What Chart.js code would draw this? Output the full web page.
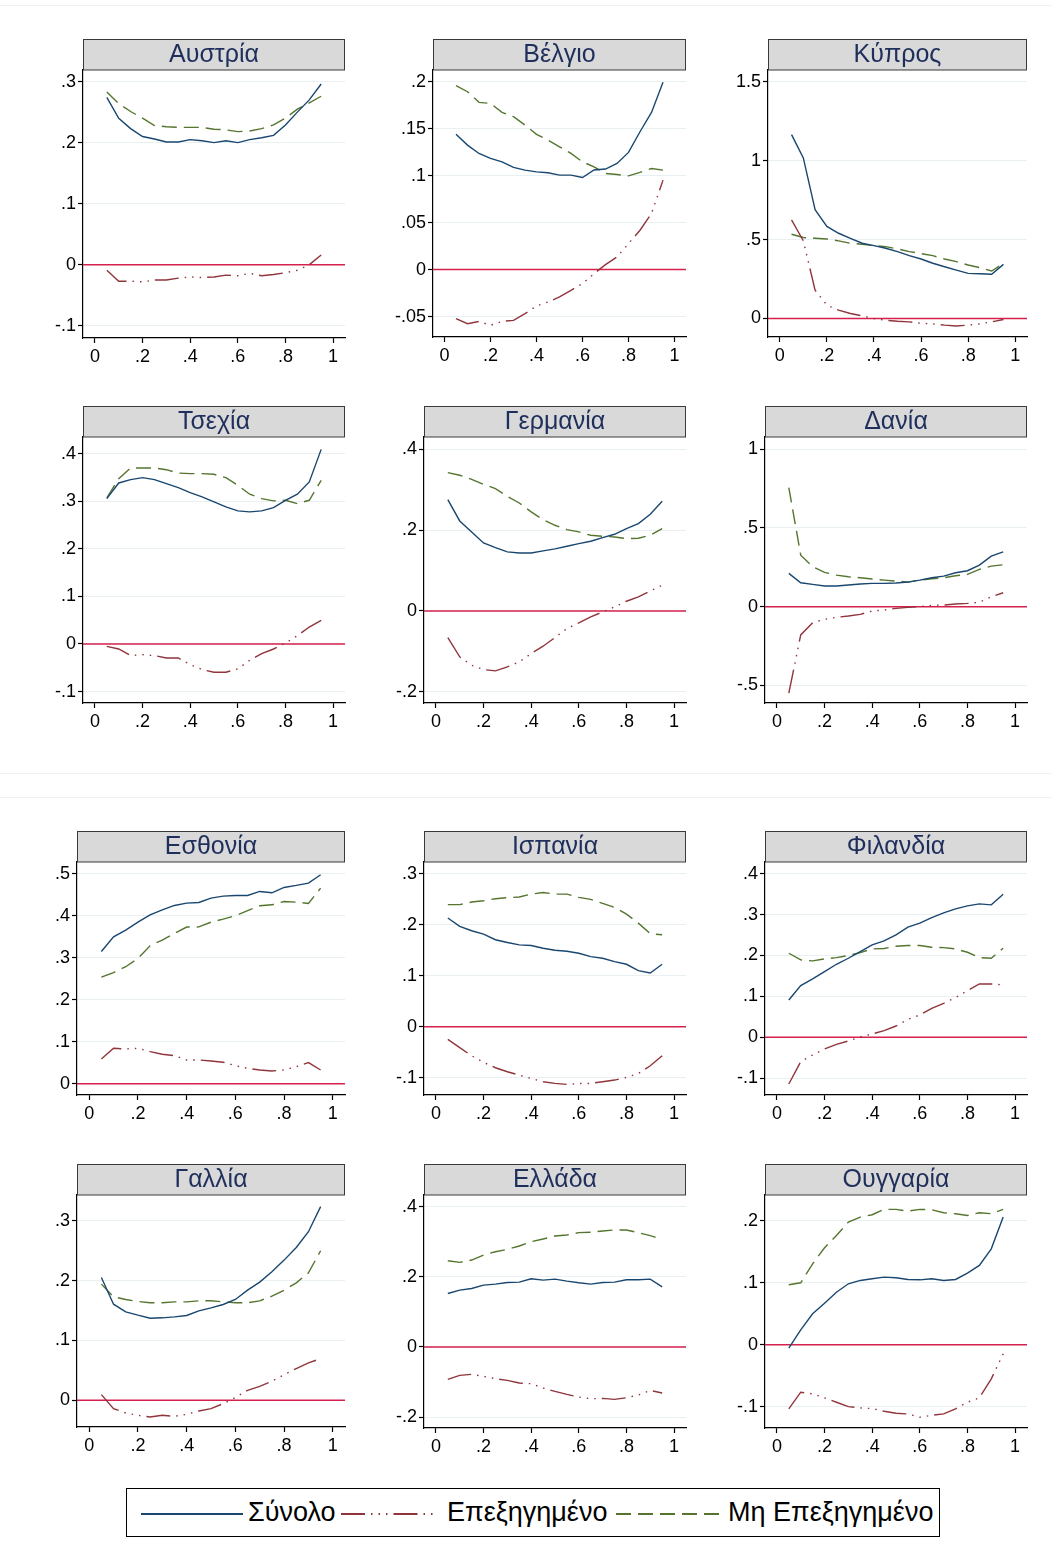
<!DOCTYPE html>
<html>
<head>
<meta charset="utf-8">
<script src="https://cdn.jsdelivr.net/npm/chart.js@4.4.1/dist/chart.umd.min.js"></script>
<style>
  body { margin: 0; background: #fff; width: 1051px; height: 1558px; position: relative; overflow: hidden;
         font-family: "Liberation Sans", Arial, sans-serif; }
  canvas { position: absolute; }
  .sep { position: absolute; left: 0; width: 1051px; height: 1px; background: #f0f0f0; }
  .legend { position: absolute; left: 126px; top: 1488px; width: 812px; height: 47px; border: 1px solid #000; }
  .legend svg { position: absolute; left: 0; top: 0; }
  .legend span { position: absolute; top: 8px; font-size: 27px; line-height: 31px; color: #000; white-space: nowrap; }
</style>
</head>
<body>
<div class="sep" style="top:5px"></div>
<div class="sep" style="top:773px"></div>
<div class="sep" style="top:797px"></div>

<div class="legend">
  <svg width="812" height="47">
    <line x1="14" y1="25" x2="116" y2="25" stroke="#1a476f" stroke-width="2"/>
    <line x1="214" y1="25" x2="311" y2="25" stroke="#90353b" stroke-width="2" stroke-dasharray="24 6 1.5 6 1.5 6 1.5 6"/>
    <line x1="489" y1="25" x2="594" y2="25" stroke="#55752f" stroke-width="2" stroke-dasharray="15 7"/>
  </svg>
  <span style="left:121px">Σύνολο</span>
  <span style="left:320px">Επεξηγημένο</span>
  <span style="left:601px">Μη Επεξηγημένο</span>
</div>

<script>
// quantiles on the x axis
var quantiles = [0.05, 0.1, 0.15, 0.2, 0.25, 0.3, 0.35, 0.4, 0.45, 0.5, 0.55, 0.6, 0.65, 0.7, 0.75, 0.8, 0.85, 0.9, 0.95];
var xTicks = [0, 0.2, 0.4, 0.6, 0.8, 1];

// Αυστρία
var atTotal  = [.274, .240, .223, .210, .206, .201, .201, .205, .203, .200, .203, .200, .205, .208, .212, .229, .250, .270, .296];
var atExpl   = [-.009, -.027, -.027, -.028, -.025, -.025, -.022, -.020, -.021, -.020, -.017, -.018, -.014, -.018, -.016, -.013, -.009, .000, .016];
var atUnexpl = [.283, .264, .251, .240, .228, .226, .225, .225, .225, .222, .221, .218, .219, .223, .229, .240, .255, .265, .276];
var atTicks  = [-.1, 0, .1, .2, .3];

// Βέλγιο
var beTotal  = [.144, .1325, .1236, .1183, .1147, .1087, .1059, .104, .103, .1005, .1005, .098, .106, .107, .113, .1247, .1467, .1673, .1993];
var beExpl   = [-.0522, -.0576, -.0551, -.0593, -.0551, -.054, -.0469, -.0387, -.0345, -.0291, -.022, -.0149, -.0043, .0053, .0135, .0277, .0419, .0597, .0952];
var beUnexpl = [.1957, .1893, .178, .1769, .1673, .1627, .1538, .1439, .1378, .1307, .1236, .1147, .1094, .1023, .1012, .0998, .1034, .1076, .1059];
var beTicks  = [-.05, 0, .05, .1, .15, .2];

// Κύπρος
var cyTotal  = [1.165, 1.017, .689, .583, .540, .508, .477, .462, .445, .424, .398, .377, .350, .328, .307, .286, .284, .280, .343];
var cyExpl   = [.625, .492, .180, .085, .053, .032, .017, .000, -.011, -.017, -.021, -.030, -.034, -.042, -.047, -.042, -.034, -.021, -.006];
var cyUnexpl = [.534, .513, .508, .504, .492, .477, .470, .462, .455, .441, .424, .411, .398, .377, .360, .339, .322, .301, .350];
var cyTicks  = [0, .5, 1, 1.5];

// Τσεχία
var czTotal  = [.3056, .3384, .3454, .3496, .3454, .337, .3286, .3182, .309, .2986, .288, .2797, .2777, .2797, .2867, .302, .3147, .3405, .409];
var czExpl   = [-.005, -.0105, -.0244, -.0223, -.0244, -.0293, -.0293, -.0433, -.0537, -.0593, -.0593, -.0524, -.0342, -.0202, -.0105, .002, .0175, .0356, .0496];
var czUnexpl = [.307, .3475, .3698, .3698, .370, .3663, .3593, .358, .358, .3566, .3496, .3335, .3147, .3056, .3007, .302, .295, .302, .344];
var czTicks  = [-.1, 0, .1, .2, .3, .4];

// Γερμανία
var deTotal  = [.2755, .2227, .1955, .1682, .1567, .146, .1435, .1435, .1485, .1534, .160, .1666, .1724, .1814, .1897, .2037, .2161, .2392, .2713];
var deExpl   = [-.066, -.1138, -.1344, -.1452, -.1485, -.1386, -.1262, -.1056, -.0874, -.066, -.0437, -.0297, -.0148, -.0025, .0099, .0239, .0346, .0495, .0635];
var deUnexpl = [.3423, .3357, .3258, .3134, .3027, .2837, .2672, .245, .226, .212, .2012, .1955, .1872, .1847, .1831, .179, .1798, .1872, .2037];
var deTicks  = [-.2, 0, .2, .4];

// Δανία
var dkTotal  = [.2113, .152, .1416, .131, .131, .1373, .1437, .1479, .148, .150, .1563, .169, .1838, .1944, .2155, .2282, .2641, .3211, .3486];
var dkExpl   = [-.5493, -.1796, -.1014, -.0803, -.0676, -.0592, -.0486, -.0275, -.0211, -.0106, -.0042, .000, .0085, .0106, .0169, .0211, .0275, .0634, .0887];
var dkUnexpl = [.7564, .3275, .2535, .2176, .2007, .190, .1838, .1754, .169, .1627, .156, .169, .1775, .1838, .1965, .205, .2366, .2578, .2662];
var dkTicks  = [-.5, 0, .5, 1];

// Εσθονία
var eeTotal  = [.3148, .3498, .3657, .3847, .4022, .4141, .4245, .430, .4316, .442, .4467, .4483, .4483, .4579, .4547, .4674, .4722, .4777, .4976];
var eeExpl   = [.0588, .0843, .0827, .0843, .0763, .070, .0668, .0564, .0564, .0541, .0509, .0429, .0366, .0326, .0302, .0326, .0405, .0501, .0326];
var eeUnexpl = [.2536, .2647, .2785, .2984, .3286, .3421, .358, .373, .3734, .3847, .3919, .400, .412, .4237, .426, .434, .4324, .4292, .4658];
var eeTicks  = [0, .1, .2, .3, .4, .5];

// Ισπανία
var esTotal  = [.2131, .1967, .1882, .1817, .1705, .165, .1604, .1591, .1539, .150, .148, .144, .1375, .1342, .1277, .1224, .110, .1054, .1224];
var esExpl   = [-.0249, -.0412, -.057, -.070, -.0805, -.0884, -.0949, -.1015, -.108, -.1113, -.1133, -.1113, -.1113, -.108, -.1047, -.0995, -.0917, -.0766, -.057];
var esUnexpl = [.2393, .2393, .2445, .247, .251, .253, .2543, .260, .2633, .260, .260, .2536, .2496, .2418, .2339, .2208, .2031, .1823, .1802];
var esTicks  = [-.1, 0, .1, .2, .3];

// Φιλανδία
var fiTotal  = [.0914, .1264, .1427, .1607, .1786, .1933, .2096, .2259, .2357, .2504, .2692, .279, .2928, .3042, .314, .3214, .3263, .3238, .3499];
var fiExpl   = [-.1142, -.0595, -.0432, -.0285, -.0171, -.009, .0008, .0082, .0163, .0277, .044, .0546, .071, .0832, .0971, .1142, .1305, .1305, .1281];
var fiUnexpl = [.2055, .1892, .1868, .1917, .1949, .1998, .2072, .2161, .217, .2227, .2243, .2243, .2202, .2194, .2161, .208, .1949, .1933, .2178];
var fiTicks  = [-.1, 0, .1, .2, .3, .4];

// Γαλλία
var frTotal  = [.2052, .1606, .1478, .1422, .1372, .1378, .1394, .1417, .1495, .1545, .1601, .1684, .184, .1974, .2147, .2342, .2554, .2817, .3235];
var frExpl   = [.0095, -.0139, -.0212, -.0251, -.0279, -.0251, -.0268, -.0234, -.0178, -.0139, -.0056, .0045, .0167, .0234, .0318, .0429, .053, .0625, .0697];
var frUnexpl = [.1941, .1729, .1684, .1651, .1629, .1629, .1645, .1645, .1662, .1662, .1645, .1629, .1629, .1662, .174, .184, .1963, .213, .2499];
var frTicks  = [0, .1, .2, .3];

// Ελλάδα
var grTotal  = [.1524, .1619, .1667, .1762, .179, .1838, .1848, .1943, .1905, .1933, .1876, .1829, .179, .1838, .1848, .1914, .1914, .1933, .1714];
var grExpl   = [-.0924, -.081, -.0781, -.0838, -.0905, -.0952, -.1029, -.1048, -.1171, -.1267, -.1352, -.1429, -.1476, -.1467, -.1495, -.1448, -.1371, -.1238, -.1314];
var grUnexpl = [.2457, .241, .2476, .2619, .2714, .2781, .2876, .300, .3076, .3162, .319, .3257, .3267, .3305, .3333, .3333, .3257, .3171, .3067];
var grTicks  = [-.2, 0, .2, .4];

// Ουγγαρία
var huTotal  = [-.0054, .0242, .050, .0672, .0849, .0984, .1038, .1065, .1091, .1081, .1054, .1048, .1065, .1038, .1054, .1156, .128, .1548, .2059];
var huExpl   = [-.1032, -.0763, -.079, -.0855, -.0925, -.0995, -.1016, -.1027, -.107, -.1102, -.1113, -.1167, -.1134, -.1113, -.1032, -.0925, -.0855, -.0548, -.0145];
var huUnexpl = [.0968, .100, .1306, .1565, .1763, .1978, .2059, .2097, .2183, .2183, .2156, .2183, .2177, .2129, .2113, .2086, .2129, .2113, .2183];
var huTicks  = [-.1, 0, .1, .2];

var blue = '#1a476f', red = '#90353b', green = '#55752f', zeroRed = '#d6204e';
var fontFam = '"Liberation Sans", Arial, sans-serif';

// panel placement on the page: plot left/right, title top, x axis line, y range
var panels = [
  { name: 'Αυστρία',  t: atTotal, e: atExpl, u: atUnexpl, ticks: atTicks, left: 83,  right: 345,  top: 39,   bottom: 338,  ymin: -0.12,  ymax: 0.319 },
  { name: 'Βέλγιο',   t: beTotal, e: beExpl, u: beUnexpl, ticks: beTicks, left: 433, right: 686,  top: 39,   bottom: 337,  ymin: -0.0717, ymax: 0.2124 },
  { name: 'Κύπρος',   t: cyTotal, e: cyExpl, u: cyUnexpl, ticks: cyTicks, left: 768, right: 1027, top: 39,   bottom: 337,  ymin: -0.117, ymax: 1.574 },
  { name: 'Τσεχία',   t: czTotal, e: czExpl, u: czUnexpl, ticks: czTicks, left: 83,  right: 345,  top: 406,  bottom: 703,  ymin: -0.124, ymax: 0.435 },
  { name: 'Γερμανία', t: deTotal, e: deExpl, u: deUnexpl, ticks: deTicks, left: 424, right: 686,  top: 406,  bottom: 703,  ymin: -0.228, ymax: 0.4305 },
  { name: 'Δανία',    t: dkTotal, e: dkExpl, u: dkUnexpl, ticks: dkTicks, left: 765, right: 1027, top: 406,  bottom: 703,  ymin: -0.612, ymax: 1.078 },
  { name: 'Εσθονία',  t: eeTotal, e: eeExpl, u: eeUnexpl, ticks: eeTicks, left: 77,  right: 345,  top: 831,  bottom: 1095, ymin: -0.027, ymax: 0.528 },
  { name: 'Ισπανία',  t: esTotal, e: esExpl, u: esUnexpl, ticks: esTicks, left: 424, right: 686,  top: 831,  bottom: 1095, ymin: -0.134, ymax: 0.323 },
  { name: 'Φιλανδία', t: fiTotal, e: fiExpl, u: fiUnexpl, ticks: fiTicks, left: 765, right: 1027, top: 831,  bottom: 1095, ymin: -0.141, ymax: 0.4286 },
  { name: 'Γαλλία',   t: frTotal, e: frExpl, u: frUnexpl, ticks: frTicks, left: 77,  right: 345,  top: 1164, bottom: 1427, ymin: -0.0446, ymax: 0.343 },
  { name: 'Ελλάδα',   t: grTotal, e: grExpl, u: grUnexpl, ticks: grTicks, left: 424, right: 686,  top: 1164, bottom: 1428, ymin: -0.231, ymax: 0.433 },
  { name: 'Ουγγαρία', t: huTotal, e: huExpl, u: huUnexpl, ticks: huTicks, left: 765, right: 1027, top: 1164, bottom: 1428, ymin: -0.134, ymax: 0.2415 }
];

// stata style labels: .2, -.05, 1.5
function fmt(v) {
  var s = String(Math.round(v * 1000) / 1000);
  return s.replace(/^(-?)0\./, '$1.');
}

function pts(arr) {
  return arr.map(function (v, i) { return { x: quantiles[i], y: v }; });
}

// gray title strip above the plot + red line at zero
var stataPanel = {
  id: 'stataPanel',
  beforeDatasetsDraw: function (chart) {
    var ctx = chart.ctx, a = chart.chartArea;
    var y = chart.scales.y.getPixelForValue(0);
    ctx.save();
    ctx.strokeStyle = zeroRed;
    ctx.lineWidth = 1.5;
    ctx.beginPath();
    ctx.moveTo(a.left, y);
    ctx.lineTo(a.right, y);
    ctx.stroke();
    ctx.restore();
  },
  afterDraw: function (chart, args, opts) {
    var ctx = chart.ctx, a = chart.chartArea;
    ctx.save();
    ctx.fillStyle = '#d9d9d9';
    ctx.fillRect(a.left, 0, a.right - a.left, a.top);
    ctx.strokeStyle = '#3a3a3a';
    ctx.lineWidth = 1;
    ctx.strokeRect(a.left + 0.5, 0.5, a.right - a.left - 1, a.top - 0.5);
    ctx.fillStyle = '#1f2f5c';
    ctx.font = '25px ' + fontFam;
    ctx.textAlign = 'center';
    ctx.textBaseline = 'middle';
    ctx.fillText(opts.title, (a.left + a.right) / 2, a.top / 2 + 1);
    ctx.restore();
  }
};

panels.forEach(function (p) {
  var cv = document.createElement('canvas');
  cv.width = p.right - p.left + 61;
  cv.height = p.bottom - p.top + 30;
  cv.style.left = (p.left - 60) + 'px';
  cv.style.top = p.top + 'px';
  document.body.appendChild(cv);

  new Chart(cv, {
    type: 'line',
    data: {
      datasets: [
        { label: 'Σύνολο', data: pts(p.t), borderColor: blue, borderWidth: 1.4 },
        { label: 'Επεξηγημένο', data: pts(p.e), borderColor: red, borderWidth: 1.4, borderDash: [24, 6, 1.5, 6, 1.5, 6, 1.5, 6] },
        { label: 'Μη Επεξηγημένο', data: pts(p.u), borderColor: green, borderWidth: 1.4, borderDash: [15, 7] }
      ]
    },
    options: {
      responsive: false,
      animation: false,
      layout: { padding: { top: 31, right: 1, left: 0, bottom: 0 } },
      elements: { point: { radius: 0 }, line: { tension: 0 } },
      plugins: {
        legend: { display: false },
        tooltip: { enabled: false },
        stataPanel: { title: p.name }
      },
      scales: {
        x: {
          type: 'linear', min: -0.05, max: 1.05,
          afterBuildTicks: function (s) { s.ticks = xTicks.map(function (v) { return { value: v }; }); },
          afterFit: function (s) { s.height = 30; },
          grid: { drawOnChartArea: false, tickLength: 5, tickColor: '#000', tickWidth: 1.2 },
          border: { color: '#000', width: 1.2 },
          ticks: { color: '#000', font: { size: 18, family: fontFam }, padding: 3, maxRotation: 0, autoSkip: false, callback: fmt }
        },
        y: {
          type: 'linear', min: p.ymin, max: p.ymax,
          afterBuildTicks: function (s) { s.ticks = p.ticks.map(function (v) { return { value: v }; }); },
          afterFit: function (s) { s.width = 60; },
          grid: { color: '#e8f0f2', lineWidth: 1, tickLength: 5, tickColor: '#000', tickWidth: 1.2 },
          border: { color: '#000', width: 1.2 },
          ticks: { color: '#000', font: { size: 18, family: fontFam }, padding: 2, autoSkip: false, callback: fmt }
        }
      }
    },
    plugins: [stataPanel]
  });
});
</script>
</body>
</html>
